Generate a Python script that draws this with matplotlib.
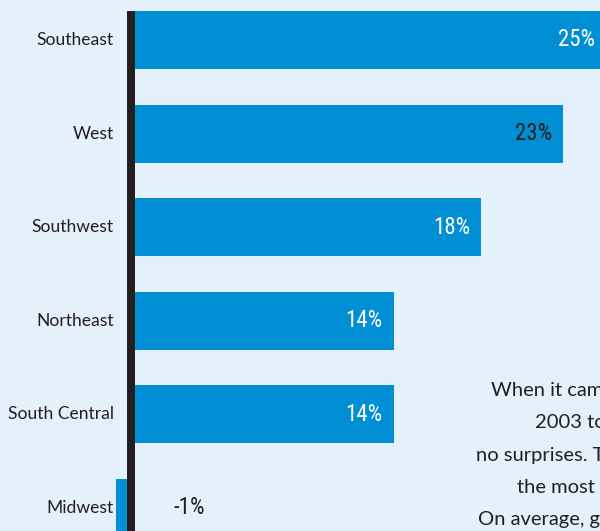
import matplotlib
matplotlib.use("Agg")
import matplotlib.pyplot as plt
from matplotlib import font_manager
from matplotlib.transforms import offset_copy

# data
regions = ["Southeast", "West", "Southwest", "Northeast", "South Central", "Midwest"]
growth = [25.3, 23.0, 18.6, 13.9, 13.9, -1.0]
growth_labels = ["25%", "23%", "18%", "14%", "14%", "-1%"]
label_colors = ["white", "#231f20", "white", "white", "white", "#231f20"]

paragraph = ["When it came", "2003 to", "no surprises. The", "the most", "On average, gro"]
paragraph_x = [491, 535, 476, 517, 478]  # left edge, pixels

BLUE = "#008fd5"
INK = "#231f20"
BG = "#e4f1fb"

installed = {f.name for f in font_manager.fontManager.ttflist}
narrow = next((n for n in ["Liberation Sans Narrow", "DejaVu Sans Condensed",
                           "Roboto Condensed", "Open Sans Condensed", "Roboto"]
               if n in installed), "DejaVu Sans")

W, H = 600, 531
PX_PER_PCT = 18.6
ZERO_PX = 135
ROW_PX = 93.6
FIRST_ROW_PX = 40

fig = plt.figure(figsize=(W / 100, H / 100), dpi=100)
fig.patch.set_facecolor(BG)
ax = fig.add_axes([0, 0, 1, 1])
ax.set_facecolor(BG)

ax.set_xlim(-ZERO_PX / PX_PER_PCT, (W - ZERO_PX) / PX_PER_PCT)
ax.set_ylim(len(regions) - 1 + (H - FIRST_ROW_PX - (len(regions) - 1) * ROW_PX) / ROW_PX,
            -FIRST_ROW_PX / ROW_PX)
ax.axis("off")

ypos = list(range(len(regions)))
bar_h = 58 / ROW_PX
ax.barh(ypos, growth, height=bar_h, color=BLUE, zorder=2)

# vertical baseline
ax.vlines(-4 / PX_PER_PCT, -bar_h / 2, ax.get_ylim()[0], color=INK,
          linewidth=8 * 0.72, zorder=3)


def px_offset(dx):
    return offset_copy(ax.transData, fig=fig, x=dx, y=0, units="dots")


for y, name in zip(ypos, regions):
    ax.text(0, y, name, transform=px_offset(-21), ha="right", va="center",
            fontsize=12.6, color=INK, family=["Lato", "DejaVu Sans"])

for y, v, lab, c in zip(ypos, growth, growth_labels, label_colors):
    if v >= 0:
        ax.text(v, y, lab, transform=px_offset(-11), ha="right", va="center",
                fontsize=16.5, color=c, family=[narrow, "DejaVu Sans"])
    else:
        ax.text(0, y, lab, transform=px_offset(38), ha="left", va="center",
                fontsize=16.5, color=c, family=[narrow, "DejaVu Sans"])

for i, (line, x) in enumerate(zip(paragraph, paragraph_x)):
    fig.text(x / W, 1 - (390 + i * 32.5) / H, line, ha="left", va="center",
             fontsize=14.5, color=INK, family=["Lato", "DejaVu Sans"])

fig.savefig("out.png", dpi=100, facecolor=BG)
